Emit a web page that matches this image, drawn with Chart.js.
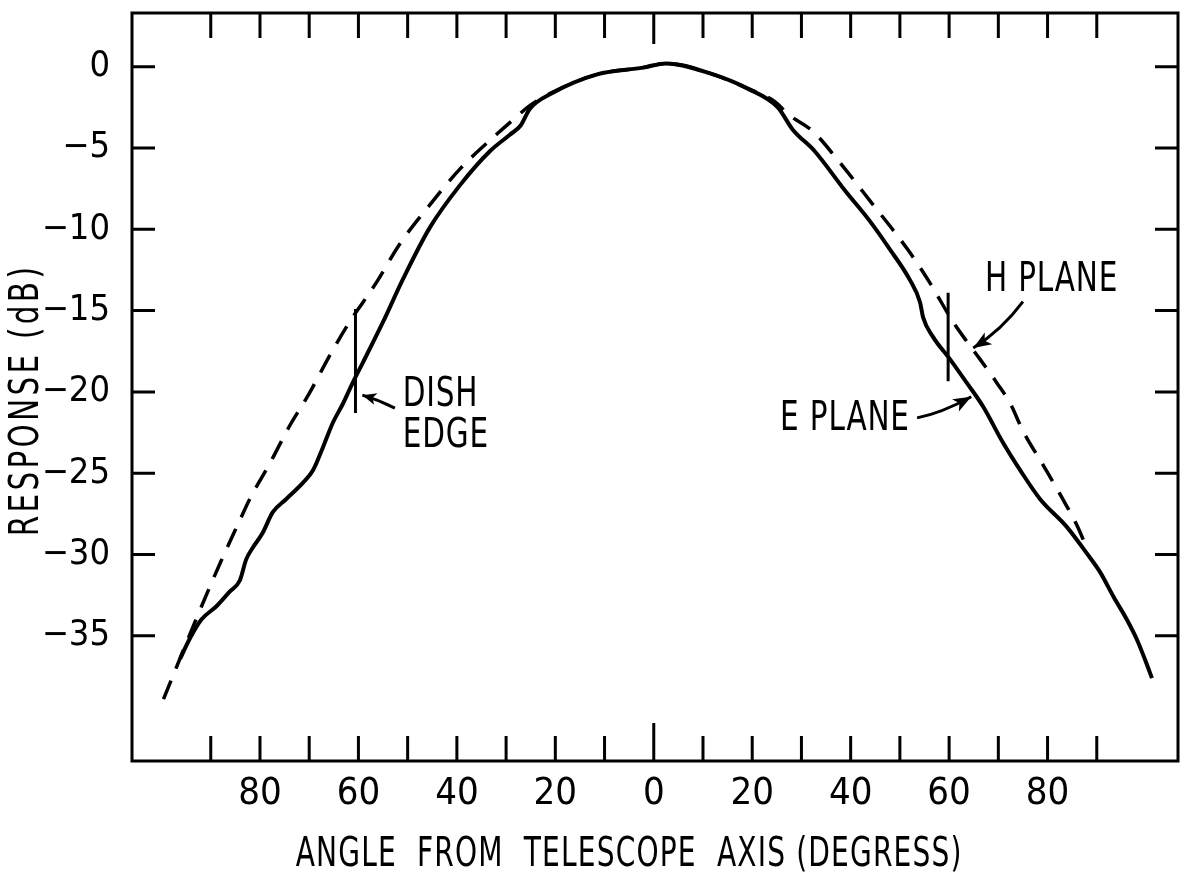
<!DOCTYPE html>
<html>
<head>
<meta charset="utf-8">
<script src="https://cdn.jsdelivr.net/npm/chart.js"></script>
<style>
  html, body { margin: 0; padding: 0; background: #fff; }
  canvas { display: block; }
</style>
</head>
<body>
<canvas id="chart" width="1181" height="872"></canvas>
<script>
// Feed response vs. angle from the telescope axis.
// Angles left of the axis are stored as negative values; labels show them unsigned.
const eAngle = [-96.2, -94.3, -91.9, -88.9, -86.2, -84.1, -82.8, -81.5, -79.5, -77.4,
  -74.7, -71.3, -69.2, -67.2, -65.2, -63.1, -61.1, -59.1, -55.0, -51.0,
  -45.5, -39.4, -33.3, -29.3, -27.0, -25.2, -20.8, -11.5, -2.2, 2.5,
  11.6, 19.1, 25.2, 28.2, 32.7, 38.8, 43.9, 48.0, 52.0, 54.1,
  54.7, 56.7, 60.2, 63.6, 66.9, 70.9, 74.4, 78.5, 83.9, 87.9,
  90.7, 93.4, 96.1, 98.1, 100.1, 101.2];
const eResp = [-36.4, -35.2, -34.0, -33.2, -32.3, -31.6, -30.3, -29.6, -28.7, -27.4,
  -26.6, -25.6, -24.8, -23.4, -21.9, -20.7, -19.4, -18.2, -15.7, -13.1,
  -9.9, -7.3, -5.2, -4.2, -3.6, -2.6, -1.65, -0.47, -0.06, 0.2,
  -0.43, -1.35, -2.5, -3.86, -5.2, -7.6, -9.5, -11.25, -13.1, -14.5,
  -15.4, -16.6, -18.0, -19.45, -20.9, -23.1, -24.8, -26.6, -28.3, -29.9,
  -31.1, -32.6, -34.0, -35.2, -36.7, -37.6];

const hAngle = [-99.6, -93.0, -87.9, -84.1, -82.1, -78.0, -74.0, -69.9, -65.9, -61.8,
  -59.1, -56.4, -51.6, -45.5, -39.4, -31.7, -28.7, -25.2, -20.7, -11.5,
  -2.2, 2.5, 11.6, 19.1, 24.6, 27.4, 32.3, 37.8, 43.9, 51.6,
  56.1, 60.8, 63.6, 66.3, 69.7, 72.4, 75.0, 79.1, 83.1, 86.2,
  88.2];
const hResp = [-38.9, -34.0, -30.4, -27.9, -26.6, -24.4, -22.1, -20.05, -17.8, -15.7,
  -14.5, -13.3, -10.9, -8.5, -6.3, -4.1, -3.3, -2.4, -1.6, -0.47,
  -0.06, 0.2, -0.43, -1.35, -2.15, -2.95, -3.97, -5.9, -8.24, -11.25,
  -13.3, -15.7, -16.9, -18.0, -19.45, -20.7, -22.4, -24.5, -26.6, -28.35,
  -29.8];

// vertical bars marking the dish edge on each side
const dishAngle = [-60.6, 59.8];
const dishTop = [-14.9, -13.9];
const dishBottom = [-21.3, -19.35];

const xTicks = [-90, -80, -70, -60, -50, -40, -30, -20, -10, 0, 10, 20, 30, 40, 50, 60, 70, 80, 90];
const yTicks = [0, -5, -10, -15, -20, -25, -30, -35];

const FONT = '"Liberation Sans Narrow", "DejaVu Sans Condensed", "Roboto Condensed", sans-serif';
const INK = '#000';

const pts = (xs, ys) => xs.map((x, i) => ({ x: x, y: ys[i] }));

const datasets = [
  {
    label: 'H PLANE',
    data: pts(hAngle, hResp),
    borderColor: INK,
    borderWidth: 3.5,
    borderDash: [20, 13],
    cubicInterpolationMode: 'monotone',
  },
  {
    label: 'E PLANE',
    data: pts(eAngle, eResp),
    borderColor: INK,
    borderWidth: 4,
    cubicInterpolationMode: 'monotone',
  },
];
dishAngle.forEach((a, i) => {
  datasets.push({
    label: 'dish edge',
    data: [{ x: a, y: dishTop[i] }, { x: a, y: dishBottom[i] }],
    borderColor: INK,
    borderWidth: 3,
  });
});

function drawText(ctx, text, x, y, align, spacing, squeeze) {
  ctx.save();
  ctx.translate(x, y);
  ctx.scale(squeeze || 0.82, 1);
  ctx.font = '40px ' + FONT;
  ctx.letterSpacing = (spacing || 1) + 'px';
  ctx.textAlign = align;
  ctx.textBaseline = 'middle';
  ctx.fillStyle = INK;
  ctx.fillText(text, 0, 0);
  ctx.restore();
}

// quadratic arrow from tail through control to a filled head
function drawArrow(ctx, p0, c, p1, headLen, headW) {
  ctx.save();
  ctx.strokeStyle = INK;
  ctx.fillStyle = INK;
  ctx.lineWidth = 3;
  ctx.beginPath();
  ctx.moveTo(p0.x, p0.y);
  ctx.quadraticCurveTo(c.x, c.y, p1.x, p1.y);
  ctx.stroke();
  const ang = Math.atan2(p1.y - c.y, p1.x - c.x);
  ctx.translate(p1.x, p1.y);
  ctx.rotate(ang);
  ctx.beginPath();
  ctx.moveTo(0, 0);
  ctx.lineTo(-headLen, -headW / 2);
  ctx.lineTo(-headLen * 0.75, 0);
  ctx.lineTo(-headLen, headW / 2);
  ctx.closePath();
  ctx.fill();
  ctx.restore();
}

const frame = {
  id: 'frame',
  afterDraw(chart) {
    const { ctx, chartArea: a, scales: { x, y } } = chart;
    const px = (v) => x.getPixelForValue(v);
    const py = (v) => y.getPixelForValue(v);
    const P = (vx, vy) => ({ x: px(vx), y: py(vy) });

    ctx.save();
    ctx.strokeStyle = INK;
    ctx.lineWidth = 3;
    ctx.strokeRect(a.left, a.top, a.right - a.left, a.bottom - a.top);

    // inward tick marks on all four sides
    ctx.beginPath();
    x.ticks.forEach((t) => {
      const tx = px(t.value);
      const bottomLen = t.value === 0 ? 38 : 25;
      const topLen = t.value === 0 ? 31 : 25;
      ctx.moveTo(tx, a.bottom);
      ctx.lineTo(tx, a.bottom - bottomLen);
      ctx.moveTo(tx, a.top);
      ctx.lineTo(tx, a.top + topLen);
    });
    y.ticks.forEach((t) => {
      const ty = py(t.value);
      ctx.moveTo(a.left, ty);
      ctx.lineTo(a.left + 23, ty);
      ctx.moveTo(a.right, ty);
      ctx.lineTo(a.right - 23, ty);
    });
    ctx.stroke();
    ctx.restore();

    // callouts
    drawText(ctx, 'DISH', px(-51.0), py(-20.2), 'left');
    drawText(ctx, 'EDGE', px(-51.0), py(-22.75), 'left');
    drawArrow(ctx, P(-52.6, -21.0), P(-55.8, -20.5), P(-59.2, -20.2), 14, 12);

    drawText(ctx, 'H PLANE', px(67.3), py(-13.16), 'left');
    drawArrow(ctx, P(75.0, -14.45), P(70.7, -16.2), P(64.9, -17.3), 18, 14);

    drawText(ctx, 'E PLANE', px(52.0), py(-21.7), 'right');
    drawArrow(ctx, P(53.5, -21.6), P(58.5, -21.3), P(64.5, -20.3), 18, 14);

    // axis titles
    drawText(ctx, 'ANGLE  FROM  TELESCOPE  AXIS (DEGRESS)', px(-5), 856, 'center', 1.5, 0.78);
    ctx.save();
    ctx.translate(28, 400);
    ctx.rotate(-Math.PI / 2);
    drawText(ctx, 'RESPONSE (dB)', 0, 0, 'center', 4);
    ctx.restore();
  },
};

new Chart(document.getElementById('chart'), {
  type: 'scatter',
  data: { datasets: datasets },
  options: {
    responsive: false,
    animation: false,
    devicePixelRatio: 1,
    showLine: true,
    elements: { point: { radius: 0 } },
    layout: { padding: { top: 13, right: 3, left: 0, bottom: 0 } },
    plugins: { legend: { display: false }, tooltip: { enabled: false } },
    scales: {
      x: {
        type: 'linear',
        min: -106,
        max: 106.5,
        afterBuildTicks: (s) => { s.ticks = xTicks.map((v) => ({ value: v })); },
        afterFit: (s) => {
          s.height = 111;
          s.paddingLeft = 0;
          s.paddingRight = 0;
        },
        grid: { display: false },
        border: { display: false },
        ticks: {
          autoSkip: false,
          maxRotation: 0,
          padding: 2,
          color: INK,
          font: { family: FONT, size: 38 },
          callback: (v) => (v % 20 === 0 && Math.abs(v) <= 80) ? String(Math.abs(v)) : '',
        },
      },
      y: {
        type: 'linear',
        min: -42.7,
        max: 3.3,
        afterBuildTicks: (s) => { s.ticks = yTicks.map((v) => ({ value: v })); },
        afterFit: (s) => {
          s.width = 132;
          s.paddingTop = 0;
          s.paddingBottom = 0;
        },
        grid: { display: false },
        border: { display: false },
        ticks: {
          padding: 14,
          color: INK,
          font: { family: FONT, size: 36 },
          callback: (v) => v === 0 ? '0' : '\u2212' + Math.abs(v),
        },
      },
    },
  },
  plugins: [frame],
});
</script>
</body>
</html>
